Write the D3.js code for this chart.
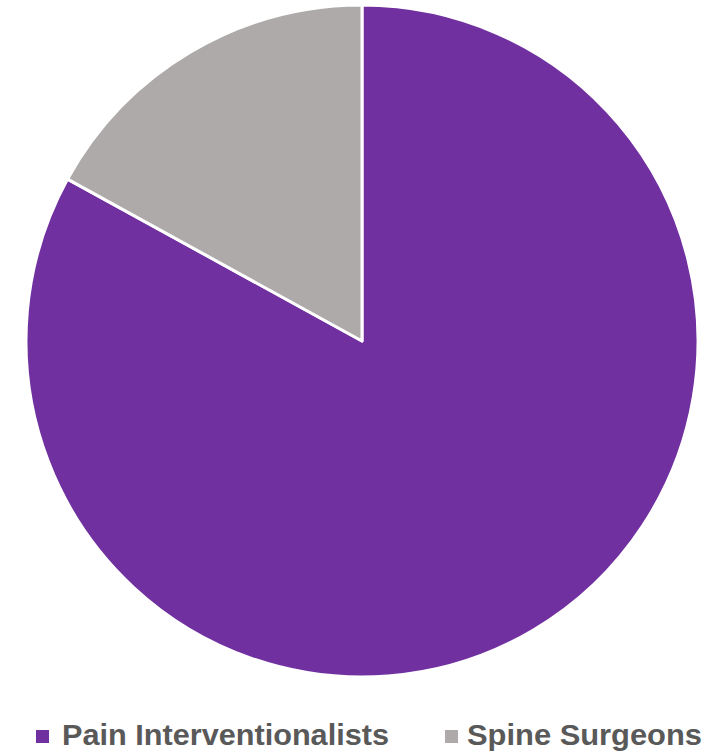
<!DOCTYPE html>
<html>
<head>
<meta charset="utf-8">
<script src="https://cdn.jsdelivr.net/npm/d3@7"></script>
<style>
  body { margin: 0; background: #fff; }
</style>
</head>
<body>
<svg id="chart"></svg>
<script>
// data
const categories = ["Pain Interventionalists", "Spine Surgeons"];
const values = [83, 17];
const colors = ["#7030A0", "#AEAAAA"];

const width = 723;
const height = 753;
const cx = 362, cy = 341, radius = 336;

const svg = d3.select('#chart')
  .attr('width', width)
  .attr('height', height);

const pie = d3.pie().sort(null).value(d => d.value);
const arc = d3.arc().innerRadius(0).outerRadius(radius);

const slices = pie(categories.map((c, i) => ({ name: c, value: values[i] })));

svg.append('g')
  .attr('transform', `translate(${cx},${cy})`)
  .selectAll('path')
  .data(slices)
  .enter().append('path')
  .attr('d', arc)
  .attr('fill', (d, i) => colors[i])
  .attr('stroke', '#fff')
  .attr('stroke-width', 3)
  .attr('stroke-linejoin', 'round');

// legend
const legendX = [36, 445];
const textX = [62, 467];
const targetW = [327, 235];
const legend = svg.append('g');

categories.forEach((c, i) => {
  legend.append('rect')
    .attr('x', legendX[i])
    .attr('y', 730)
    .attr('width', 13)
    .attr('height', 13)
    .attr('fill', colors[i]);
  legend.append('text')
    .attr('x', textX[i])
    .attr('y', 745)
    .attr('font-family', 'Liberation Sans, Arial, sans-serif')
    .attr('font-weight', 'bold')
    .attr('font-size', 30)
    .attr('fill', '#595959')
    .attr('textLength', targetW[i])
    .attr('lengthAdjust', 'spacingAndGlyphs')
    .text(c);
});
</script>
</body>
</html>
